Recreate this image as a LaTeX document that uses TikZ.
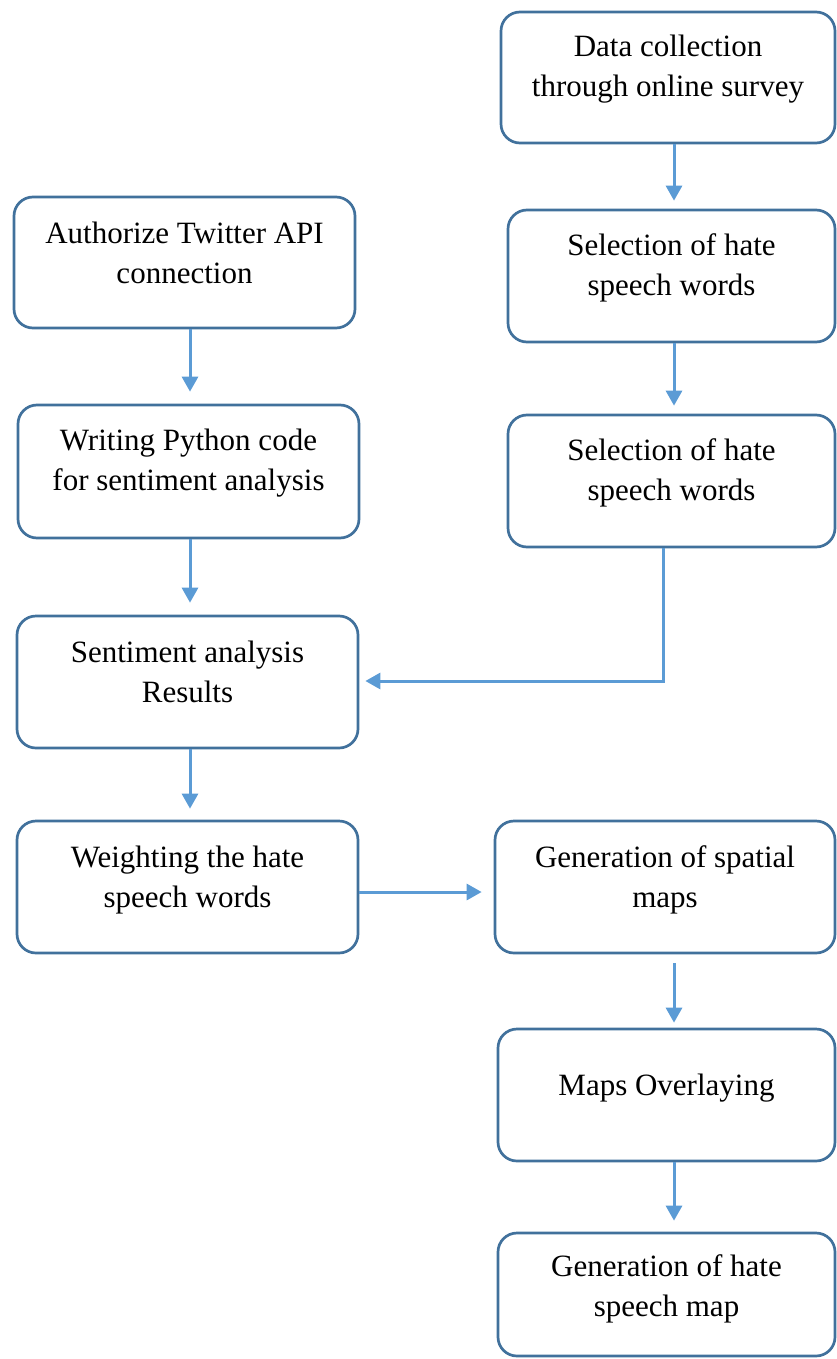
\documentclass[tikz,border=0pt]{standalone}
\usepackage{fontspec}
\setmainfont{Liberation Serif}
\usetikzlibrary{arrows.meta}
\definecolor{boxline}{HTML}{41719C}
\definecolor{arrline}{HTML}{5B9BD5}
\newcommand{\bt}[4]{\parbox[c][#2pt][t]{#1pt}{\centering\rule{0pt}{#3pt}#4}}
\tikzset{
  box/.style={draw=boxline, line width=2.7pt, rounded corners=19pt, inner sep=0pt,
    font=\fontsize{31}{40}\selectfont},
  arr/.style={draw=arrline, line width=3pt, -{Triangle[width=16pt,length=15pt]}},
}
\begin{document}
\begin{tikzpicture}[x=1pt,y=-1pt]
\useasboundingbox (0,0) rectangle (837,1359);
% right column
\node[box] (d1) at (668,77.5) {\bt{334}{131}{45}{Data collection\\through online survey}};
\node[box] (r2) at (671.5,276) {\bt{327}{132}{45}{Selection of hate\\speech words}};
\node[box] (r3) at (671.5,481) {\bt{327}{132}{45}{Selection of hate\\speech words}};
\node[box] (r4) at (665,887) {\bt{340}{132}{46}{Generation of spatial\\maps}};
\node[box] (r5) at (666.5,1095) {\bt{337}{132}{66}{Maps Overlaying}};
\node[box] (r6) at (666.5,1294.5) {\bt{337}{123}{43}{Generation of hate\\speech map}};
% left column
\node[box] (l1) at (184.5,262.5) {\bt{341}{131}{46}{Authorize Twitter API\\connection}};
\node[box] (l2) at (188.5,471.5) {\bt{341}{133}{45}{Writing Python code\\for sentiment analysis}};
\node[box] (l3) at (187.5,682) {\bt{341}{132}{46}{Sentiment analysis\\Results}};
\node[box] (l4) at (187.5,887) {\bt{341}{132}{46}{Weighting the hate\\speech words}};
% guide coordinates
\coordinate (rx) at (674,0);
\coordinate (lx) at (190,0);
\coordinate (jx) at (663,681);
% connectors
\draw[arr, shorten >=8pt] (d1.south -| rx) -- (r2.north -| rx);
\draw[arr, shorten >=8pt] (r2.south -| rx) -- (r3.north -| rx);
\draw[arr, shorten >=12pt] (l1.south -| lx) -- (l2.north -| lx);
\draw[arr, shorten >=12pt] (l2.south -| lx) -- (l3.north -| lx);
\draw[arr, shorten >=11pt] (l3.south -| lx) -- (l4.north -| lx);
\draw[arr, shorten >=12pt] (l4.east |- 0,892) -- (r4.west |- 0,892);
\draw[arr, shorten <=9pt, shorten >=5pt] (r4.south -| rx) -- (r5.north -| rx);
\draw[arr, shorten >=11pt] (r5.south -| rx) -- (r6.north -| rx);
\draw[arr, shorten >=6pt] (r3.south -| jx) -- (jx) -- (jx -| l3.east);
\end{tikzpicture}
\end{document}
